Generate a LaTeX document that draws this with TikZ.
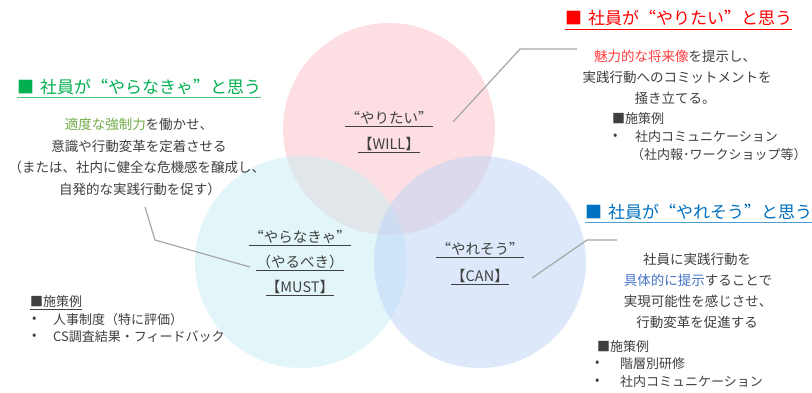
\documentclass[tikz,border=0pt]{standalone}
\usepackage{fontspec}
\setmainfont{Noto Sans CJK JP}
\newfontfamily\fwq[RawFeature=+fwid]{Noto Sans CJK JP}
\newcommand\oqt{{\fwq “}}
\newcommand\cqt{{\fwq ”}}
\definecolor{txt}{RGB}{64,64,64}
\definecolor{hred}{RGB}{255,0,0}
\definecolor{hgreen}{RGB}{0,176,80}
\definecolor{hblue}{RGB}{0,112,192}
\definecolor{kred}{RGB}{255,60,60}
\definecolor{kgreen}{RGB}{112,173,71}
\definecolor{kblue}{RGB}{68,114,196}
\definecolor{cW}{RGB}{252,192,200}
\definecolor{cM}{RGB}{198,238,244}
\definecolor{cC}{RGB}{188,212,248}
\definecolor{lineg}{RGB}{166,166,166}
\begin{document}
\begin{tikzpicture}[x=1pt,y=-1pt,
  every node/.style={inner sep=0pt, text=txt, font=\fontsize{13.5}{16}\selectfont},
  venn/.style={fill opacity=0.5, draw=none},
  conn/.style={draw=lineg, line width=1.2pt},
  heading/.style={font=\fontsize{17}{20}\selectfont, anchor=west},
  lbl/.style={font=\fontsize{14.5}{17}\selectfont},
  ul/.style={line width=0.8pt, draw=txt},
  item/.style={anchor=west, font=\fontsize{13}{15}\selectfont}]
\useasboundingbox (0,0) rectangle (812,392);
\fill[white] (0,0) rectangle (812,392);
% circles
\fill[cW, venn] (389,129) circle (106pt);
\fill[cM, venn] (301,262) circle (106pt);
\fill[cC, venn] (480,262) circle (106pt);
% circle labels
\node[lbl] (w1) at (389,118) {\oqt やりたい\cqt};
\node[lbl] (w2) at (389,144) {【WILL】};
\node[lbl] (m1) at (300,237) {\oqt やらなきゃ\cqt};
\node[lbl] (m2) at (300,262) {（やるべき）};
\node[lbl] (m3) at (300,287) {【MUST】};
\node[lbl] (c1) at (480,249) {\oqt やれそう\cqt};
\node[lbl] (c2) at (480,276) {【CAN】};
\foreach \n in {w1,w2,m1,m2,m3,c1,c2}
  \draw[ul] ([yshift=-1.5pt]\n.south west) -- ([yshift=-1.5pt]\n.south east);
% connectors
\coordinate (wA) at (453,122); \coordinate (wB) at (520,49); \coordinate (wC) at (577,49);
\draw[conn] (wA) -- (wB) -- (wC);
\coordinate (mA) at (145,207); \coordinate (mB) at (155,240); \coordinate (mC) at (250,267);
\draw[conn] (mA) -- (mB) -- (mC);
\coordinate (cA) at (532,278); \coordinate (cB) at (587,240); \coordinate (cC) at (617,240);
\draw[conn] (cA) -- (cB) -- (cC);
% headings
\node[heading, text=hred] (hW) at (565,18) {■\hspace{0.35em}社員が\oqt やりたい\cqt と思う};
\draw[hred, line width=1.2pt] ([yshift=-3pt]hW.south west) -- ([yshift=-3pt]hW.south east);
\node[heading, text=hgreen] (hM) at (17,87) {■\hspace{0.35em}社員が\oqt やらなきゃ\cqt と思う};
\draw[hgreen!70, line width=1.2pt] ([yshift=-2pt]hM.south west) -- ([yshift=-2pt]hM.south east);
\node[heading, text=hblue] (hC) at (585,212) {■\hspace{0.35em}社員が\oqt やれそう\cqt と思う};
\draw[hblue!70, line width=1.2pt] ([yshift=-2.5pt]hC.south west) -- ([yshift=-2.5pt]hC.south east);
% WILL body
\node (wt1) at (675,56) {\textcolor{kred}{魅力的な将来像}を提示し、};
\node (wt2) at (677,77) {実践行動へのコミットメントを};
\node (wt3) at (675,98) {掻き立てる。};
\node[item] (wp) at (612,119) {■施策例};
\node[item] (wb1) at (613,137) {•};
\node[item] (wi1) at (635,137) {社内コミュニケーション};
\node[item] (wi2) at (631,155) {（社内報･ワークショップ等）};
% MUST body
\node (mt1) at (139,124) {\textcolor{kgreen}{適度な強制力}を働かせ、};
\node (mt2) at (139,146) {意識や行動変革を定着させる};
\node (mt3) at (137,167) {（または、社内に健全な危機感を醸成し、};
\node (mt4) at (140,189) {自発的な実践行動を促す）};
\node[item] (mp) at (30,302) {■施策例};
\draw[ul, line width=0.6pt] ([yshift=-1pt]mp.south west) -- ([yshift=-1pt]mp.south east);
\node[item] (mb1) at (32,320) {•};
\node[item] (mi1) at (53,320) {人事制度（特に評価）};
\node[item] (mb2) at (32,337) {•};
\node[item] (mi2) at (53,337) {CS調査結果・フィードバック};
% CAN body
\node (ct1) at (697,259) {社員に実践行動を};
\node (ct2) at (698,280) {\textcolor{kblue}{具体的に提示}することで};
\node (ct3) at (698,301) {実現可能性を感じさせ、};
\node (ct4) at (697,322) {行動変革を促進する};
\node[item] (cp) at (597,347) {■施策例};
\node[item] (cb1) at (595,364) {•};
\node[item] (ci1) at (620,364) {階層別研修};
\node[item] (cb2) at (595,382) {•};
\node[item] (ci2) at (620,382) {社内コミュニケーション};
\end{tikzpicture}
\end{document}
